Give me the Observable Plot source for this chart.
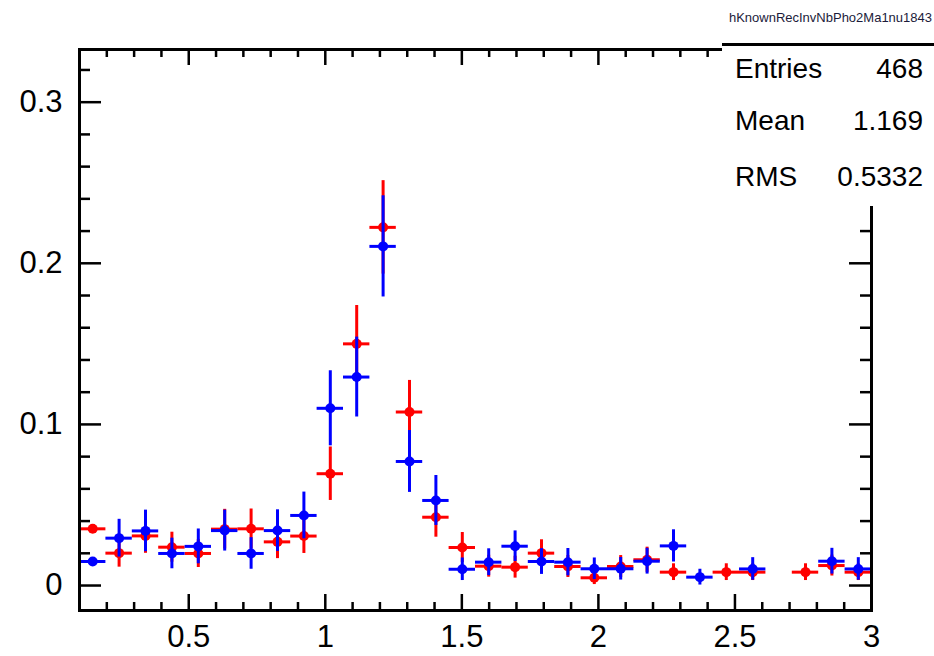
<!DOCTYPE html>
<html>
<head>
<meta charset="utf-8">
<script src="https://cdn.jsdelivr.net/npm/d3@7"></script>
<script src="https://cdn.jsdelivr.net/npm/@observablehq/plot@0.6"></script>
<style>
  body { margin: 0; background: #fff; }
  #wrap { position: relative; width: 934px; height: 656px; font-family: "Liberation Sans", Arial, Helvetica, sans-serif; }
  #wrap svg { position: absolute; left: 0; top: 0; }
  #title { position: absolute; top: 10px; right: 2px; font-size: 13px; color: #1b1b3a; white-space: nowrap; }
  #stats { position: absolute; left: 722px; top: 43px; width: 212px; height: 160px; background: #fff; border-top: 3px solid #000; }
  .row { position: absolute; left: 13px; right: 11px; font-size: 28px; line-height: 30px; display: flex; justify-content: space-between; color: #000; }
</style>
</head>
<body>
<div id="wrap">
  <div id="chart"></div>
  <div id="title"></div>
  <div id="stats"></div>
</div>
<script>
// ---- histogram binning ----
const binLo = 0.1, binHi = 3.0, nBins = 30;

// ---- series values (null = empty bin) ----
const redValues = [0.0352, 0.0201, 0.0308, 0.0238, 0.0199, 0.0350, 0.0352, 0.0271, 0.0307, 0.0694,
                   0.1500, 0.2223, 0.1077, 0.0424, 0.0236, 0.0120, 0.0114, 0.0201, 0.0118, 0.0048,
                   0.0118, 0.0160, 0.0083, null,   0.0083, 0.0083, null,   0.0083, 0.0124, 0.0083];
const redErrors = [0,      0.0087, 0.0108, 0.0093, 0.0087, 0.0123, 0.0123, 0.0104, 0.0108, 0.0166,
                   0.0238, 0.0290, 0.0196, 0.0124, 0.0093, 0.0068, 0.0068, 0.0083, 0.0068, 0.0042,
                   0.0068, 0.0078, 0.0052, null,   0.0052, 0.0052, null,   0.0052, 0.0065, 0.0052];
const blueValues = [0.0149, 0.0294, 0.0339, 0.0199, 0.0243, 0.0341, 0.0199, 0.0341, 0.0435, 0.1100,
                    0.1294, 0.2105, 0.0770, 0.0528, 0.0101, 0.0145, 0.0244, 0.0149, 0.0145, 0.0104,
                    0.0104, 0.0151, 0.0246, 0.0052, null,   0.0103, null,   null,   0.0151, 0.0103];
const blueErrors = [0,      0.0117, 0.0129, 0.0095, 0.0108, 0.0127, 0.0098, 0.0129, 0.0145, 0.0233,
                    0.0248, 0.0314, 0.0192, 0.0155, 0.0070, 0.0083, 0.0095, 0.0080, 0.0085, 0.0067,
                    0.0070, 0.0080, 0.0100, 0.0049, null,   0.0070, null,   null,   0.0080, 0.0070];

// ---- axis ticks ----
const xMajorTicks = [0.5, 1, 1.5, 2, 2.5, 3];
const xMinorTicks = [0.2, 0.3, 0.4, 0.6, 0.7, 0.8, 0.9, 1.1, 1.2, 1.3, 1.4, 1.6, 1.7, 1.8, 1.9,
                     2.1, 2.2, 2.3, 2.4, 2.6, 2.7, 2.8, 2.9];
const yMajorTicks = [0, 0.1, 0.2, 0.3];
const yMinorTicks = [0.02, 0.04, 0.06, 0.08, 0.12, 0.14, 0.16, 0.18, 0.22, 0.24, 0.26, 0.28, 0.32];

// ---- text ----
const histTitle = "hKnownRecInvNbPho2Ma1nu1843";
const statLabels = ["Entries", "Mean", "RMS"];
const statValues = ["468", "1.169", "0.5332"];

// ---- build rows ----
const binW = (binHi - binLo) / nBins;
function toRows(values, errors) {
  const out = [];
  values.forEach((v, i) => {
    if (v == null) return;
    out.push({lo: binLo + i * binW, hi: binLo + (i + 1) * binW, xc: binLo + (i + 0.5) * binW, y: v, e: errors[i]});
  });
  return out;
}
const red = toRows(redValues, redErrors);
const blue = toRows(blueValues, blueErrors);

const W = 934, H = 656;
const mL = 79, mR = 63, mT = 49, mB = 46;
const fw = W - mL - mR, fh = H - mT - mB;
const tickW = 2.5;

function seriesMarks(data, color) {
  return [
    Plot.ruleY(data, {x1: "lo", x2: "hi", y: "y", stroke: color, strokeWidth: 3}),
    Plot.ruleX(data.filter(d => d.e > 0), {x: "xc", y1: d => d.y - d.e, y2: d => d.y + d.e, stroke: color, strokeWidth: 3}),
    Plot.dot(data, {x: "xc", y: "y", r: 5, fill: color, stroke: "none"})
  ];
}

const chart = Plot.plot({
  width: W, height: H,
  marginLeft: mL, marginRight: mR, marginTop: mT, marginBottom: mB,
  style: {fontSize: "31px", fontFamily: "'Liberation Sans', Arial, sans-serif", color: "#000", background: "transparent"},
  x: {domain: [binLo, binHi], ticks: xMajorTicks, tickSize: 0, tickPadding: 14, tickFormat: d => String(d), label: null},
  y: {domain: [-0.0155, 0.3327], ticks: yMajorTicks, tickSize: 0, tickPadding: 17, tickFormat: d => String(d), label: null},
  marks: [
    // left / right y ticks (inward)
    Plot.tickY(yMajorTicks, {y: d => d, insetRight: fw - 22, stroke: "#000", strokeWidth: tickW}),
    Plot.tickY(yMinorTicks, {y: d => d, insetRight: fw - 11, stroke: "#000", strokeWidth: tickW}),
    Plot.tickY(yMajorTicks, {y: d => d, insetLeft: fw - 22, stroke: "#000", strokeWidth: tickW}),
    Plot.tickY(yMinorTicks, {y: d => d, insetLeft: fw - 11, stroke: "#000", strokeWidth: tickW}),
    // bottom / top x ticks (inward)
    Plot.tickX(xMajorTicks, {x: d => d, insetTop: fh - 16, stroke: "#000", strokeWidth: tickW}),
    Plot.tickX(xMinorTicks, {x: d => d, insetTop: fh - 8, stroke: "#000", strokeWidth: tickW}),
    Plot.tickX(xMajorTicks, {x: d => d, insetBottom: fh - 16, stroke: "#000", strokeWidth: tickW}),
    Plot.tickX(xMinorTicks, {x: d => d, insetBottom: fh - 8, stroke: "#000", strokeWidth: tickW}),
    ...seriesMarks(red, "#ff0000"),
    ...seriesMarks(blue, "#0000ff"),
    Plot.frame({stroke: "#000", strokeWidth: 3})
  ]
});
document.getElementById("chart").appendChild(chart);

document.getElementById("title").textContent = histTitle;
const stats = document.getElementById("stats");
const tops = [8, 60, 116];
statLabels.forEach((lab, i) => {
  const row = document.createElement("div");
  row.className = "row";
  row.style.top = tops[i] + "px";
  const a = document.createElement("span"); a.textContent = lab;
  const b = document.createElement("span"); b.textContent = statValues[i];
  row.appendChild(a); row.appendChild(b);
  stats.appendChild(row);
});
</script>
</body>
</html>
